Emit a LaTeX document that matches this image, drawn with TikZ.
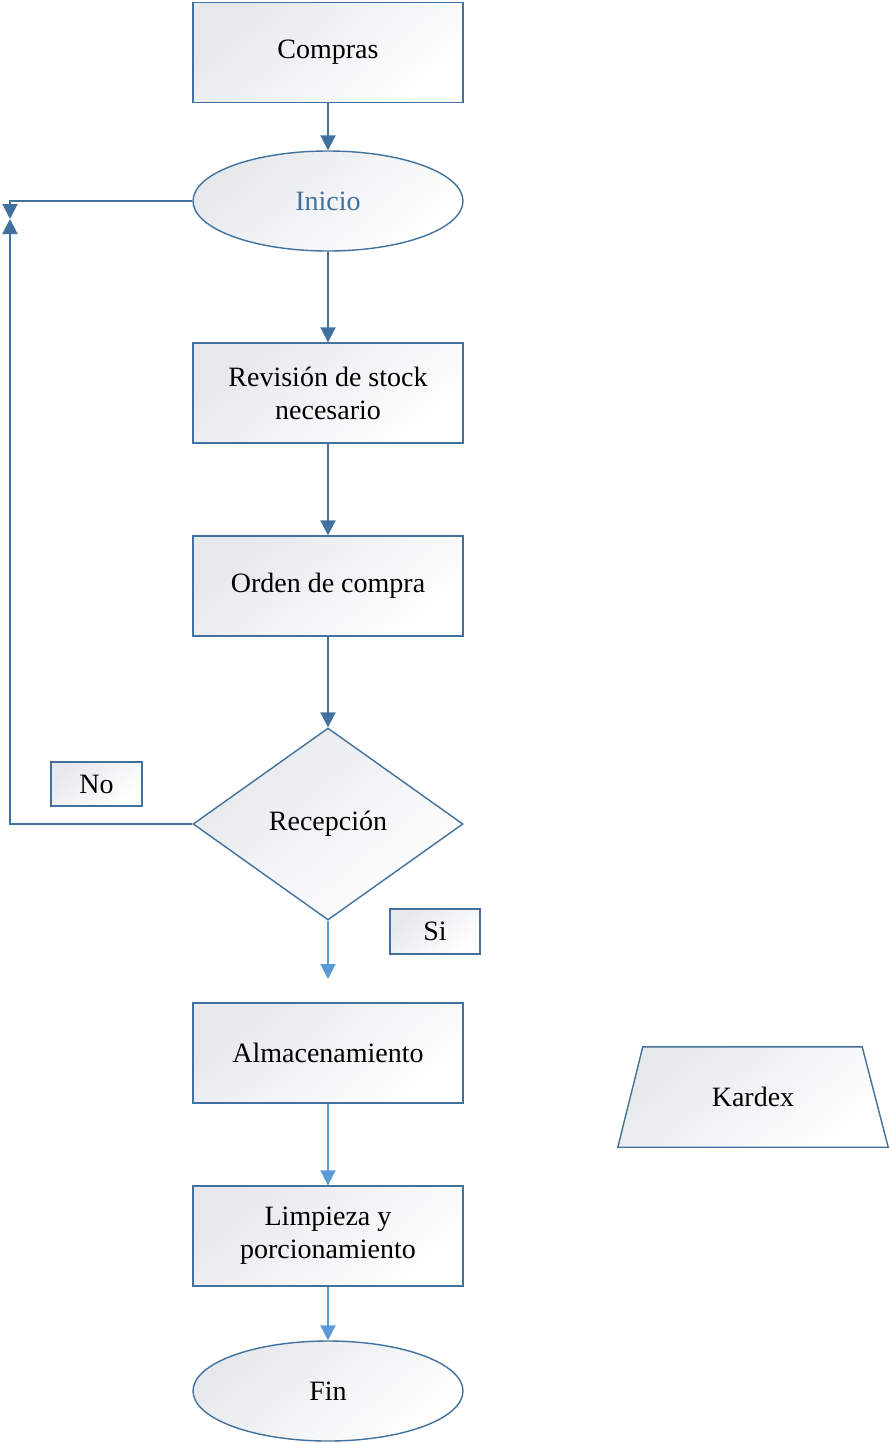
\documentclass[tikz,border=0pt]{standalone}
\usepackage{fontspec}
\setmainfont{Liberation Serif}
\usetikzlibrary{shapes.geometric,arrows.meta}
\definecolor{edge}{HTML}{41719C}
\definecolor{flow}{HTML}{5B9BD5}
\definecolor{shadetop}{HTML}{E6E8EC}
\tikzset{
  x=1pt, y=-1pt,
  txt/.style={font=\fontsize{28}{33}\selectfont, align=center, inner sep=0pt},
  fillshade/.style={top color=shadetop, bottom color=white, shading angle=40},
  base/.style={draw=edge, line width=1.4pt, fillshade, txt},
  procbox/.style={base, rectangle, minimum width=270pt, minimum height=100pt},
  term/.style={base, ellipse, minimum width=270pt, minimum height=100pt},
  decide/.style={base, diamond, minimum width=270pt, minimum height=192pt, shape aspect=1.4},
  datain/.style={txt, rectangle, minimum width=270pt, minimum height=100pt},
  tag/.style={base, rectangle, line width=1.2pt},
  darrow/.style={draw=edge, line width=2pt, -{Triangle[length=15pt,width=15pt]}},
  larrow/.style={draw=flow, line width=2pt, -{Triangle[length=15pt,width=15pt]}},
}
\begin{document}
\begin{tikzpicture}
\useasboundingbox (0,0) rectangle (890,1444);

\node[procbox] (compras) at (328,52.5) {Compras};
\node[term, text=edge] (inicio) at (328,201) {Inicio};
\node[procbox] (revision) at (328,393) {Revisión de stock\\necesario};
\node[procbox] (orden) at (328,586) {Orden de compra};
\node[decide] (recep) at (328,824) {Recepción};
\node[tag, minimum width=91pt, minimum height=44pt] (no) at (96.5,784) {No};
\node[tag, minimum width=90pt, minimum height=45pt] (si) at (435,931.5) {Si};
\node[procbox] (alm) at (328,1053) {Almacenamiento};
\node[procbox] (limp) at (328,1236) {Limpieza y\\porcionamiento};
\node[term] (fin) at (328,1391) {Fin};

% data symbol: trapezium with the wider side at the bottom
\node[datain] (kardex) at (753,1097) {};
\draw[draw=edge, line width=1.4pt, fillshade]
  (kardex.south west) -- (kardex.south east)
  -- ([xshift=-26pt]kardex.north east) -- ([xshift=25pt]kardex.north west) -- cycle;
\node[txt] at (kardex.center) {Kardex};

\coordinate (meet) at (10,219);
\coordinate (siend) at (328,979);

\draw[darrow] (compras) -- (inicio);
\draw[darrow] (inicio) -- (revision);
\draw[darrow] (revision) -- (orden);
\draw[darrow] (orden) -- (recep.north);
\draw[darrow] (recep.west) -| (meet);
\draw[darrow] (inicio.west) -| (meet);
\draw[larrow] (recep.south) -- (siend);
\draw[larrow] (alm) -- (limp);
\draw[larrow] (limp) -- (fin);
\end{tikzpicture}
\end{document}
